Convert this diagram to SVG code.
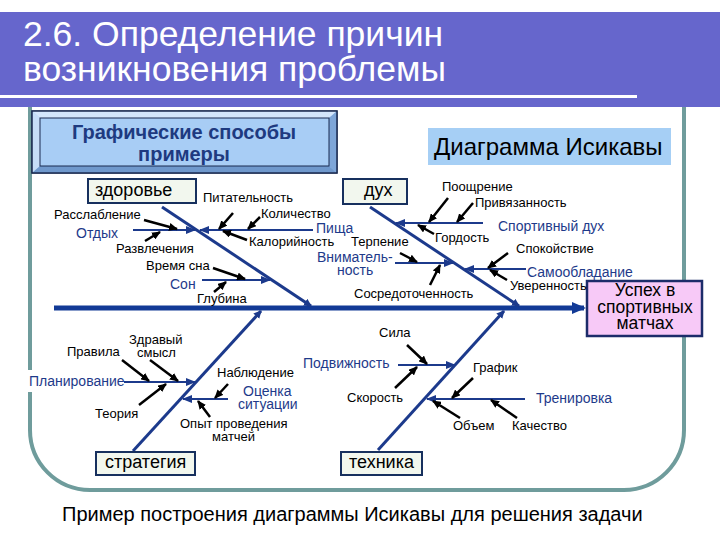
<svg xmlns="http://www.w3.org/2000/svg" width="720" height="540" viewBox="0 0 720 540">
<defs>
<style>
text{font-family:"Liberation Sans",Arial,sans-serif}
.t{font-size:13px;fill:#000}
.n{font-size:14px;fill:#1e3a8a}
.c{font-size:18px;fill:#000}
.box{fill:#f2f7ee;stroke:#17305e;stroke-width:2}
.bone{stroke:#1c3a8c;stroke-width:3;fill:none;marker-end:url(#mb)}
.sub{stroke:#1c3a8c;stroke-width:2;fill:none;marker-end:url(#ms)}
.ar{stroke:#000;stroke-width:2.5;fill:none;marker-end:url(#ma)}
</style>
<marker id="ma" markerUnits="userSpaceOnUse" markerWidth="9" markerHeight="8" refX="8" refY="4" orient="auto"><path d="M0,0 L9,4 L0,8 z" fill="#000"/></marker>
<marker id="ms" markerUnits="userSpaceOnUse" markerWidth="10" markerHeight="8" refX="9" refY="4" orient="auto"><path d="M0,0 L10,4 L0,8 z" fill="#1c3a8c"/></marker>
<marker id="mb" markerUnits="userSpaceOnUse" markerWidth="8" markerHeight="8" refX="7" refY="4" orient="auto"><path d="M0,0 L8,4 L0,8 z" fill="#1c3a8c"/></marker>
<marker id="mspine" markerUnits="userSpaceOnUse" markerWidth="14" markerHeight="12" refX="12" refY="6" orient="auto"><path d="M0,0 L14,6 L0,12 z" fill="#123a96"/></marker>
</defs>
<rect width="720" height="540" fill="#fff"/>
<g id="header">
<rect x="0" y="12" width="720" height="95" fill="#6666cc"/>
<line x1="0" y1="96.5" x2="637" y2="96.5" stroke="#fff" stroke-width="3"/>
<text x="23" y="46" font-size="35.5" fill="#fff">2.6. Определение причин</text>
<text x="23" y="81" font-size="35.5" fill="#fff">возникновения проблемы</text>
</g>
<g id="frame">
<path d="M30,107 V430 A60,60 0 0 0 90,490 H624 A60,60 0 0 0 684,430 V107" fill="none" stroke="#6f9c9c" stroke-width="4"/>
</g>
<g id="methods-box">
<rect x="32" y="111" width="305" height="62" fill="#a8cdf5" stroke="#1a2a50" stroke-width="1"/>
<polygon points="32,111 337,111 329,118 40,118" fill="#d4e6fb"/>
<polygon points="32,111 40,118 40,166 32,173" fill="#c6ddf8"/>
<polygon points="337,111 337,173 329,166 329,118" fill="#7ea6d8"/>
<polygon points="32,173 337,173 329,166 40,166" fill="#6f98cc"/>
<rect x="40" y="118" width="289" height="48" fill="#a8cdf5" stroke="#1a2a50" stroke-width="1"/>
<rect x="32" y="111" width="305" height="62" fill="none" stroke="#1a2a50" stroke-width="1.5"/>
<text x="184" y="139" font-size="20" font-weight="bold" fill="#1e3a80" text-anchor="middle">Графические способы</text>
<text x="184" y="161" font-size="20" font-weight="bold" fill="#1e3a80" text-anchor="middle">примеры</text>
</g>
<g id="title-box">
<rect x="428" y="128" width="243" height="37" fill="#a6cff5"/>
<text x="434" y="155" font-size="24" fill="#000">Диаграмма Исикавы</text>
</g>
<g id="connectors">
<line x1="54" y1="308" x2="584" y2="308" stroke="#123a96" stroke-width="5" marker-end="url(#mspine)"/>
<line class="bone" x1="162" y1="207" x2="311" y2="306"/>
<line class="bone" x1="370" y1="207" x2="519" y2="306"/>
<line class="bone" x1="133" y1="451" x2="261" y2="311"/>
<line class="bone" x1="378" y1="450" x2="504" y2="311"/>
<line class="sub" x1="133" y1="230" x2="195" y2="230"/>
<line class="sub" x1="313" y1="230" x2="200" y2="230"/>
<line class="sub" x1="202" y1="280" x2="270" y2="280"/>
<line class="sub" x1="395" y1="263" x2="453" y2="263"/>
<line class="sub" x1="483" y1="223" x2="396" y2="223"/>
<line class="sub" x1="526" y1="269" x2="465" y2="269"/>
<line class="sub" x1="124" y1="382" x2="195" y2="382"/>
<line class="sub" x1="228" y1="399" x2="183" y2="399"/>
<line class="sub" x1="398" y1="365" x2="455" y2="365"/>
<line class="sub" x1="525" y1="399" x2="427" y2="399"/>
<line class="ar" x1="233" y1="213" x2="219" y2="229"/>
<line class="ar" x1="260" y1="217" x2="248" y2="229"/>
<line class="ar" x1="247" y1="240" x2="223" y2="231"/>
<line class="ar" x1="144" y1="220" x2="177" y2="229"/>
<line class="ar" x1="145" y1="241" x2="160" y2="232"/>
<line class="ar" x1="213" y1="268" x2="245" y2="279"/>
<line class="ar" x1="214" y1="292" x2="226" y2="282"/>
<line class="ar" x1="400" y1="253" x2="417" y2="262"/>
<line class="ar" x1="430" y1="285" x2="440" y2="265"/>
<line class="ar" x1="448" y1="198" x2="429" y2="222"/>
<line class="ar" x1="473" y1="203" x2="457" y2="222"/>
<line class="ar" x1="434" y1="234" x2="418" y2="225"/>
<line class="ar" x1="508" y1="253" x2="488" y2="268"/>
<line class="ar" x1="507" y1="280" x2="490" y2="270"/>
<line class="ar" x1="122" y1="360" x2="149" y2="381"/>
<line class="ar" x1="150" y1="360" x2="178" y2="381"/>
<line class="ar" x1="139" y1="405" x2="166" y2="384"/>
<line class="ar" x1="228" y1="384" x2="215" y2="398"/>
<line class="ar" x1="210" y1="417" x2="198" y2="401"/>
<line class="ar" x1="407" y1="345" x2="427" y2="364"/>
<line class="ar" x1="395" y1="388" x2="417" y2="367"/>
<line class="ar" x1="473" y1="378" x2="452" y2="398"/>
<line class="ar" x1="460" y1="418" x2="433" y2="401"/>
<line class="ar" x1="517" y1="418" x2="491" y2="400"/>
</g>
<g id="health">
<rect class="box" x="88" y="179" width="108" height="24"/>
<text class="c" x="95" y="196">здоровье</text>
</g>
<g id="spirit">
<rect class="box" x="343" y="179" width="64" height="25"/>
<text class="c" x="364" y="196">дух</text>
</g>
<g id="strategy">
<rect class="box" x="96" y="452" width="99" height="23"/>
<text class="c" x="105" y="468">стратегия</text>
</g>
<g id="technique">
<rect class="box" x="341" y="452" width="81" height="23"/>
<text class="c" x="349" y="468">техника</text>
</g>
<g id="effect">
<rect x="587" y="281" width="115" height="55" fill="#f7c9f7" stroke="#1c2c6a" stroke-width="2.5"/>
<text x="645" y="296" font-size="17.5" text-anchor="middle">Успех в</text>
<text x="645" y="312.5" font-size="17.5" text-anchor="middle">спортивных</text>
<text x="645" y="329" font-size="17.5" text-anchor="middle">матчах</text>
</g>
<g id="cause-labels">
<text class="n" x="76" y="238">Отдых</text>
<text class="n" x="316" y="233">Пища</text>
<text class="n" x="170" y="289">Сон</text>
<text class="n" x="317" y="262">Вниматель-</text>
<text class="n" x="337" y="275">ность</text>
<text class="n" x="498" y="231">Спортивный дух</text>
<text class="n" x="527" y="277">Самообладание</text>
<rect x="27" y="370" width="97" height="22" fill="#fff"/>
<text class="n" x="29" y="386">Планирование</text>
<text class="n" x="243" y="396">Оценка</text>
<text class="n" x="238" y="409">ситуации</text>
<text class="n" x="303" y="368">Подвижность</text>
<text class="n" x="536" y="403">Тренировка</text>
</g>
<g id="factor-labels">
<text class="t" x="203" y="202">Питательность</text>
<text class="t" x="261" y="218">Количество</text>
<text class="t" x="249" y="246">Калорийность</text>
<text class="t" x="54" y="219">Расслабление</text>
<text class="t" x="116" y="253">Развлечения</text>
<text class="t" x="146" y="270">Время сна</text>
<text class="t" x="197" y="303">Глубина</text>
<text class="t" x="351" y="246">Терпение</text>
<text class="t" x="354" y="298">Сосредоточенность</text>
<text class="t" x="442" y="191">Поощрение</text>
<text class="t" x="475" y="207">Привязанность</text>
<text class="t" x="435" y="242">Гордость</text>
<text class="t" x="516" y="253">Спокойствие</text>
<text class="t" x="510" y="290">Уверенность</text>
<text class="t" x="67" y="356">Правила</text>
<text class="t" x="129" y="344">Здравый</text>
<text class="t" x="137" y="357">смысл</text>
<text class="t" x="95" y="418">Теория</text>
<text class="t" x="217" y="377">Наблюдение</text>
<text class="t" x="180" y="428">Опыт проведения</text>
<text class="t" x="212" y="441">матчей</text>
<text class="t" x="379" y="337">Сила</text>
<text class="t" x="347" y="402">Скорость</text>
<text class="t" x="473" y="372">График</text>
<text class="t" x="453" y="430">Объем</text>
<text class="t" x="512" y="430">Качество</text>
</g>
<g id="caption">
<text x="62" y="521" font-size="20" fill="#000">Пример построения диаграммы Исикавы для решения задачи</text>
</g>
</svg>
